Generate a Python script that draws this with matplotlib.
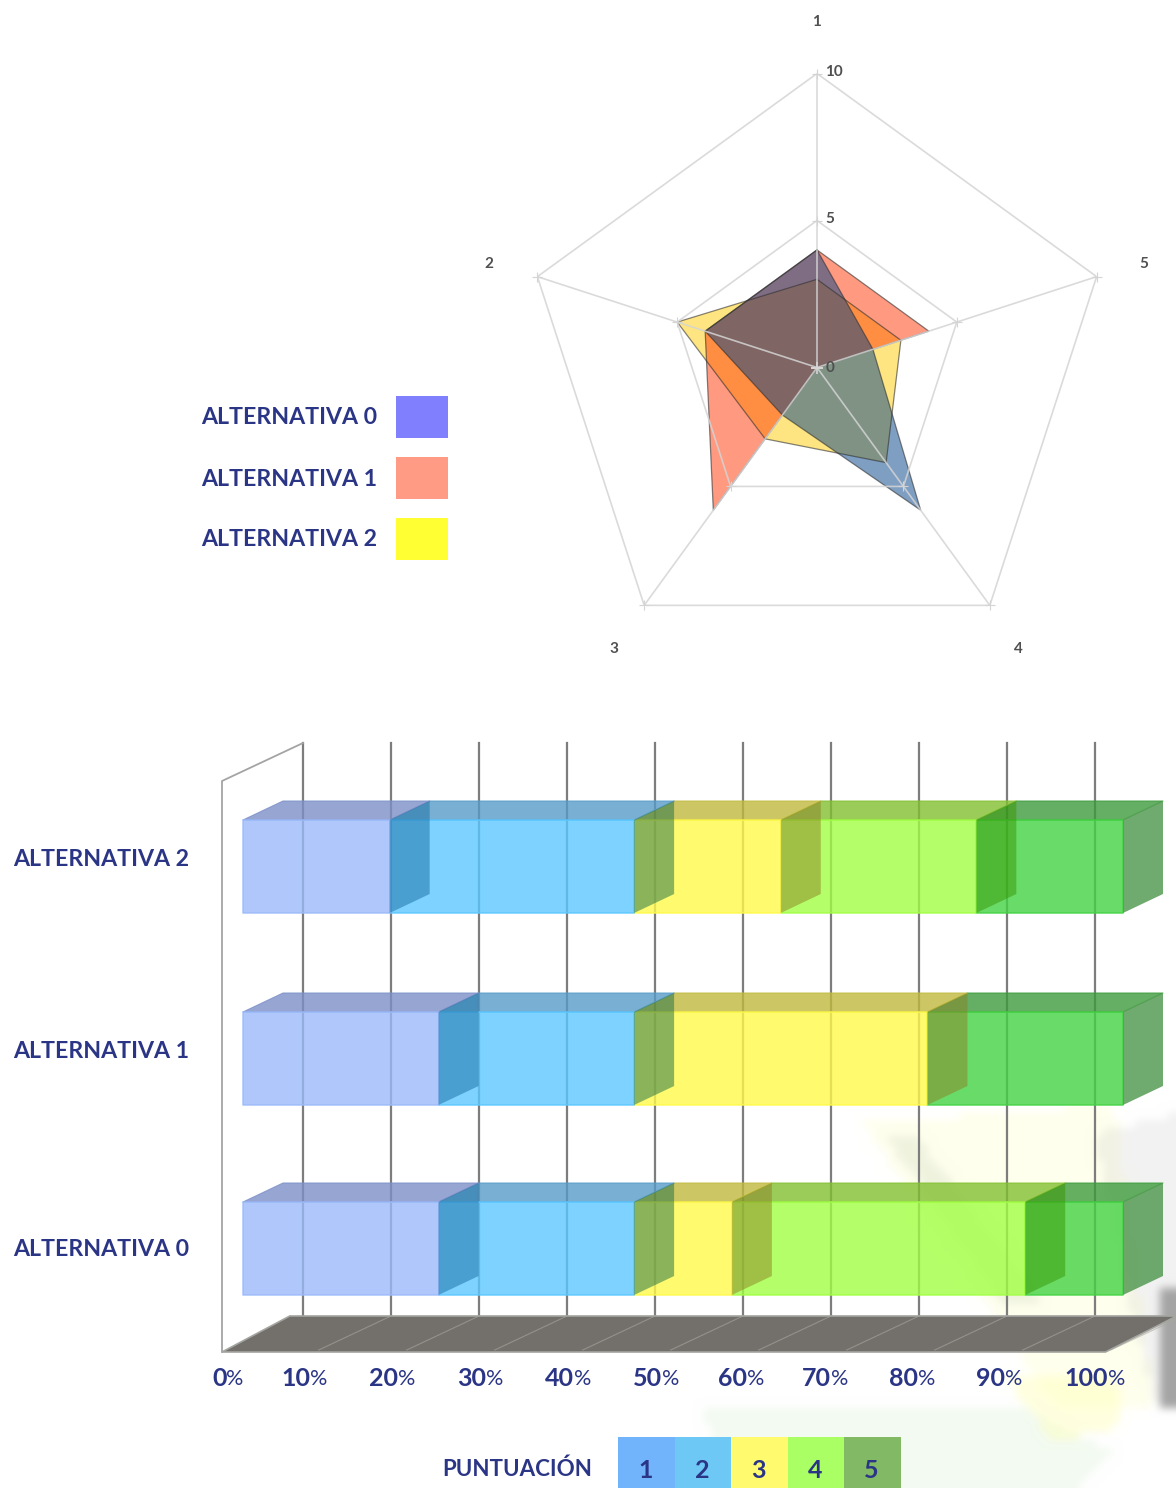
import numpy as np
import matplotlib
matplotlib.use('Agg')
import matplotlib.pyplot as plt
from matplotlib.patches import Polygon, Rectangle
from matplotlib.path import Path

W, H = 1176, 1488
INK = '#2b3585'
FONT = 'Lato'

# answers per score level (1-5) for every alternative
alternatives = ['ALTERNATIVA 0', 'ALTERNATIVA 1', 'ALTERNATIVA 2']
scores_alt0 = [4, 4, 2, 6, 2]
scores_alt1 = [4, 4, 6, 0, 4]
scores_alt2 = [3, 5, 3, 4, 3]
score_names = ['1', '2', '3', '4', '5']
radar_ticks = [0, 5, 10]
pct_ticks = [0, 10, 20, 30, 40, 50, 60, 70, 80, 90, 100]

swatch_colors = ['#8080ff', '#ff9b85', '#ffff33']
radar_colors = ['#004187', '#ff3705', '#ffcd05']
score_swatches = ['#72b4fc', '#6ec8f5', '#fffa6e', '#aaff64', '#82b964']
front_colors = ['#9bbaf9', '#5cc7ff', '#fff94a', '#a1ff43', '#43d343']
top_colors = ['#7c8fc7', '#569bc7', '#c0ba3d', '#82c031', '#3d9b3d']
side_colors = ['#196ea5', '#196e46', '#8c8023', '#379600', '#4b954a']

fig = plt.figure(figsize=(W / 100, H / 100), dpi=100, facecolor='white')


def px_axes(left, top, width, height, **kw):
    return fig.add_axes([left / W, 1 - (top + height) / H, width / W, height / H], **kw)


# page layer: faint backdrop, legends, row captions
page = px_axes(0, 0, W, H)
page.axis('off')

# the backdrop is painted coarse, the bicubic upscale softens its edges
CELL = 8
gy, gx = np.mgrid[0:H // CELL, 0:W // CELL]
grid = np.column_stack([gx.ravel() * CELL, gy.ravel() * CELL])
backdrop = np.ones((H // CELL, W // CELL, 3))
washes = [
    ([(860, 1120), (1110, 1100), (1150, 1400), (1050, 1400)], (255, 255, 205), 0.35),
    ([(880, 1130), (910, 1130), (1040, 1300), (1000, 1300)], (215, 225, 200), 0.40),
    ([(700, 1400), (1010, 1400), (1110, 1450), (1070, 1488), (720, 1488)], (228, 245, 224), 0.45),
    ([(1000, 1370), (1110, 1370), (1120, 1420), (1050, 1440)], (255, 255, 176), 0.40),
    ([(1090, 1130), (1176, 1110), (1176, 1400), (1155, 1408), (1125, 1300)], (190, 190, 190), 0.20),
    ([(1155, 1290), (1176, 1280), (1176, 1400), (1160, 1405)], (70, 70, 70), 0.45),
]
for pts, col, a in washes:
    mask = Path(pts).contains_points(grid).reshape(backdrop.shape[:2])
    backdrop[mask] = backdrop[mask] * (1 - a) + np.array(col) / 255 * a
page.imshow(backdrop, extent=(0, W, H, 0), aspect='auto', interpolation='bicubic', zorder=0)
page.set_xlim(0, W)
page.set_ylim(H, 0)

for i, name in enumerate(alternatives):
    y = 396 + 61 * i
    page.add_patch(Rectangle((396, y), 52, 42, fc=swatch_colors[i], ec='none'))
    page.text(201, y + 22, name, color=INK, fontsize=16.7, family=FONT, weight='bold',
              ha='left', va='center')

for i, name in enumerate(score_names):
    page.add_patch(Rectangle((618 + 56.6 * i, 1437), 56.6, 51, fc=score_swatches[i], ec='none'))
    page.text(646 + 56.3 * i, 1470, name, color=INK, fontsize=18, family=FONT, weight='bold',
              ha='center', va='center')
page.text(442, 1469, 'PUNTUACIÓN', color=INK, fontsize=16.1, family=FONT, weight='bold',
          ha='left', va='center')

for name, y in zip(alternatives, [1249, 1052, 860]):
    page.text(13, y, name, color=INK, fontsize=16.7, family=FONT, weight='bold',
              ha='left', va='center')

# radar
radar = px_axes(523, 73.5, 588, 588, projection='polar')
radar.patch.set_alpha(0)
radar.set_theta_offset(np.pi / 2)
radar.set_ylim(0, 10)
radar.axis('off')

angles = np.arange(5) * 2 * np.pi / 5
closed = np.append(angles, angles[0])
GRID = '#d4d4d4'

series = [scores_alt2, scores_alt1, scores_alt0]
fills = [radar_colors[2], radar_colors[1], radar_colors[0]]
for vals, col in zip(series, fills):
    radar.fill(closed, vals + vals[:1], color=col, alpha=0.5, lw=0, zorder=2)
    radar.plot(closed, vals + vals[:1], color='#303030', lw=0.9, alpha=0.6, zorder=3)

for r in radar_ticks[1:]:
    radar.plot(closed, [r] * 6, color=GRID, lw=1.2, alpha=0.85, zorder=4)
    radar.plot(angles, [r] * 5, ls='none', marker='+', ms=7, mew=0.8, color=GRID, zorder=4,
               clip_on=False)
for a in angles:
    radar.plot([a, a], [0, radar_ticks[-1]], color=GRID, lw=1.2, alpha=0.85, zorder=4)
radar.plot([0], [0], marker='+', ms=9, mew=1.2, color=GRID, zorder=4)

for a, name, dy in zip(angles, score_names, [0.8, -2, -2, -2, -2]):
    radar.annotate(name, xy=(a, 11.7), xytext=(-0.5, dy), textcoords='offset points',
                   color='#505050', fontsize=11, family=FONT, weight='bold',
                   ha='center', va='center', annotation_clip=False)
for r in radar_ticks:
    radar.annotate(str(r), xy=(0, r), xytext=(6, 1 if r else -0.5),
                   textcoords='offset points', color='#505050', fontsize=11, family=FONT,
                   weight='bold', ha='left', va='center', annotation_clip=False, zorder=5)

# stacked percentage bars, x axis in percent, y axis in page pixels
PX_PER_PCT = 8.8
FLOOR_LEFT = 222
BAR_SHIFT = 21 / PX_PER_PCT    # bars stand a little behind the floor's front edge
BACK_SHIFT = 81 / PX_PER_PCT   # rear wall
DEPTH = 40 / PX_PER_PCT        # bar depth along x
DEPTH_Y = 19

bars = px_axes(0, 740, W, 640)
bars.patch.set_alpha(0)
bars.set_xlim(-FLOOR_LEFT / PX_PER_PCT, (W - FLOOR_LEFT) / PX_PER_PCT)
bars.set_ylim(1380, 740)
bars.axis('off')

FLOOR_BACK, FLOOR_FRONT = 1316, 1352
TOP_WALL = 743
bars.add_patch(Polygon([(0, FLOOR_FRONT), (100.4, FLOOR_FRONT), (108.5, FLOOR_BACK),
                        (BACK_SHIFT - 1.5, FLOOR_BACK)], closed=True,
                       fc='#73706c', ec='#a4a4a0', lw=1.2, zorder=2))
for p in pct_ticks:
    bars.plot([p + BACK_SHIFT, p + BACK_SHIFT], [TOP_WALL, FLOOR_BACK], color='#7d7d7d', lw=1.6, zorder=1)
    if p:
        bars.plot([p + BACK_SHIFT, p + 1], [FLOOR_BACK, FLOOR_FRONT - 2], color='#a9a89f', lw=0.8, alpha=0.6, zorder=3)
bars.plot([0, 0, BACK_SHIFT], [FLOOR_FRONT, TOP_WALL + 38, TOP_WALL], color='#a4a4a4', lw=1.3, zorder=1)


def draw_row(values, top):
    # right to left, so every end face lies over the next segment's front
    shares = 100 * np.array(values) / sum(values)
    edges = np.concatenate([[0], np.cumsum(shares)]) + BAR_SHIFT
    bottom = top + 93
    back = top - DEPTH_Y
    for i in range(len(values) - 1, -1, -1):
        a, b = edges[i], edges[i + 1]
        if b - a < 0.01:
            continue
        bars.add_patch(Polygon([(a, top), (b, top), (b + DEPTH, back), (a + DEPTH, back)], closed=True,
                               fc=top_colors[i], ec=top_colors[i], lw=0.8, alpha=0.8, joinstyle='round', zorder=4))
        bars.add_patch(Polygon([(a, top), (b, top), (b, bottom), (a, bottom)], closed=True,
                               fc=front_colors[i], ec=front_colors[i], lw=1.2, alpha=0.8, joinstyle='round', zorder=4))
        last = i == len(values) - 1
        bars.add_patch(Polygon([(b, top), (b + DEPTH, back), (b + DEPTH, bottom - DEPTH_Y), (b, bottom)], closed=True,
                               fc=side_colors[i], ec='none', alpha=0.8 if last else 0.5, zorder=5))


draw_row(scores_alt2, 820)
draw_row(scores_alt1, 1012)
draw_row(scores_alt0, 1202)

# axis captions: bold figure with a lighter, smaller percent sign
label_nudge = [0.5, 0, 0, 0, 0, 0, -0.3, -0.8, -0.9, -1, 0.7]
for p, dx in zip(pct_ticks, label_nudge):
    bars.text(p + dx, 1378, str(p), color=INK, fontsize=18, family=FONT, weight='bold',
              ha='right', va='center', clip_on=False)
    bars.text(p + dx, 1379, '%', color=INK, fontsize=15.5, family=FONT,
              ha='left', va='center', clip_on=False)

fig.savefig('out.png', dpi=100)
